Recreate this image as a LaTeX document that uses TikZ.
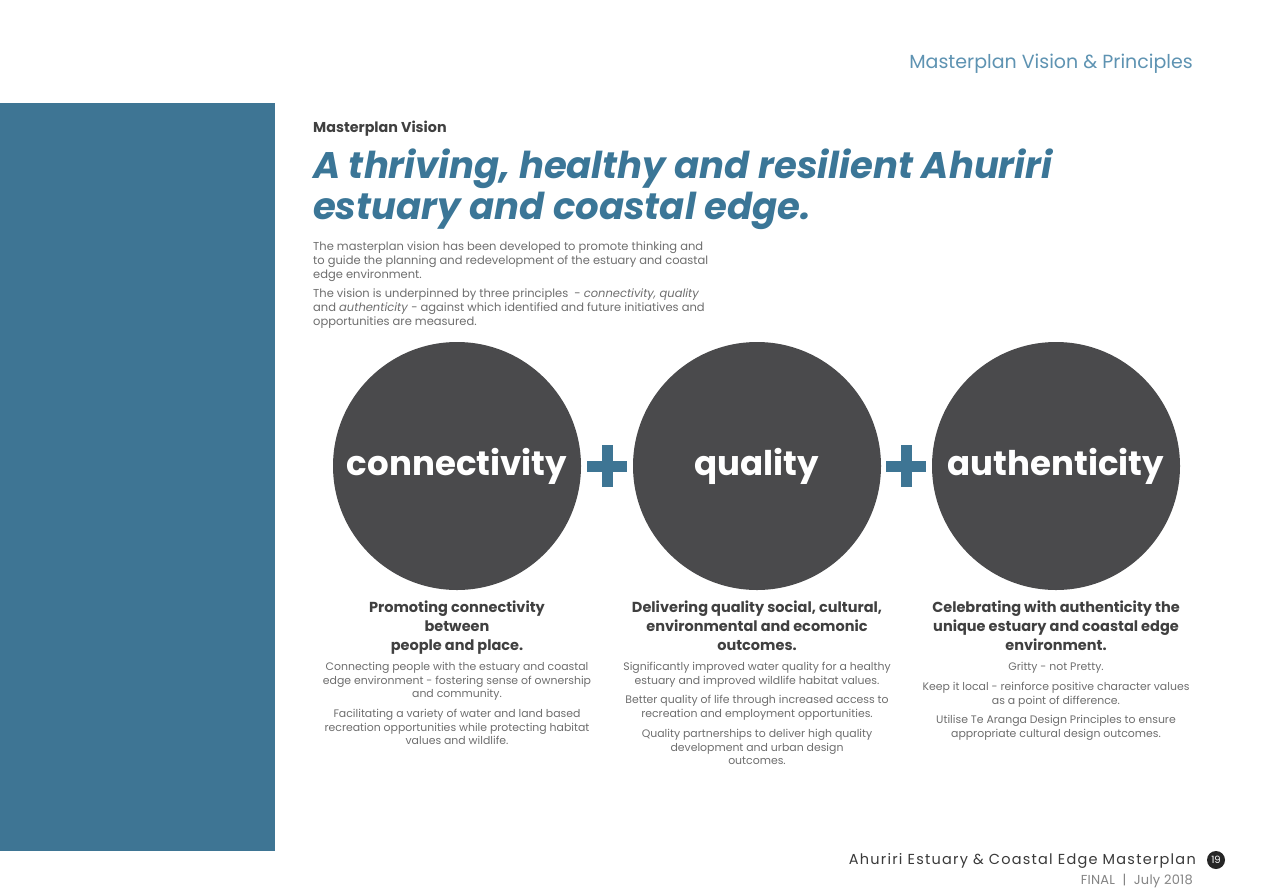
\documentclass[tikz,border=0pt]{standalone}
\usepackage{fontspec}
\setmainfont{Poppins}
\definecolor{panelblue}{HTML}{3E7594}
\definecolor{titleblue}{HTML}{3B7697}
\definecolor{lightblue}{HTML}{5E93B2}
\definecolor{circgray}{HTML}{4A4A4C}
\definecolor{headgray}{HTML}{404040}
\definecolor{bodygray}{HTML}{6E6E6E}
\tikzset{
  principle/.style={circle, fill=circgray, minimum size=248pt, inner sep=0pt, text=white, font=\fontsize{34}{40}\selectfont\bfseries},
  plusarm/.style={fill=panelblue, draw=none},
  heading/.style={align=center, text=headgray, font=\fontsize{14.5}{19}\selectfont\bfseries, inner sep=0pt, anchor=north},
  body/.style={align=center, text=bodygray, font=\fontsize{10.9}{13.5}\selectfont, inner sep=0pt, anchor=north},
  intro/.style={align=left, text=bodygray, font=\fontsize{11.5}{14}\selectfont, inner sep=0pt, anchor=north west},
}
\begin{document}
\begin{tikzpicture}[x=1pt,y=-1pt]
\useasboundingbox[fill=white] (0,0) rectangle (1277,887);
\fill[panelblue] (0,103) rectangle (275,851);
\node[anchor=base east, text=lightblue, inner sep=0pt, font=\fontsize{19}{22}\selectfont] (hdr) at (1193,68) {Masterplan Vision \& Principles};
\node[anchor=base west, text=headgray, inner sep=0pt, font=\fontsize{14.3}{16}\selectfont\bfseries] (mv) at (313,132) {Masterplan Vision};
\node[anchor=north west, align=left, text=titleblue, inner sep=0pt, font=\fontsize{37}{41}\selectfont\bfseries\itshape] (title) at (313,149) {A thriving, healthy and resilient Ahuriri\\estuary and coastal edge.};
\node[intro] (p1) at (313,242) {The masterplan vision has been developed to promote thinking and\\to guide the planning and redevelopment of the estuary and coastal\\edge environment.};
\node[intro] (p2) at (313,289) {The vision is underpinned by three principles\ \ - \textit{connectivity, quality}\\and \textit{authenticity} - against which identified and future initiatives and\\opportunities are measured.};
\node[principle] (c1) at (457,466) {connectivity};
\node[principle] (c2) at (757,466) {quality};
\node[principle] (c3) at (1056,466) {authenticity};
\foreach \x/\n in {607/plusA,906/plusB}{
  \fill[plusarm] (\x-20,466-5.5) rectangle (\x+20,466+5.5);
  \fill[plusarm] (\x-5.5,466-21) rectangle (\x+5.5,466+21);
}
\node[heading] (h1) at (457,601) {Promoting connectivity\\between\\people and place.};
\node[heading] (h2) at (757,601) {Delivering quality social, cultural,\\environmental and ecomonic\\outcomes.};
\node[heading] (h3) at (1056,601) {Celebrating with authenticity the\\unique estuary and coastal edge\\environment.};
\node[body] (b1a) at (457,662) {Connecting people with the estuary and coastal\\edge environment - fostering sense of ownership\\and community.};
\node[body] (b1b) at (457,709) {Facilitating a variety of water and land based\\recreation opportunities while protecting habitat\\values and wildlife.};
\node[body] (b2a) at (757,662) {Significantly improved water quality for a healthy\\estuary and improved wildlife habitat values.};
\node[body] (b2b) at (757,695) {Better quality of life through increased access to\\recreation and employment opportunities.};
\node[body] (b2c) at (757,729) {Quality partnerships to deliver high quality\\development and urban design\\outcomes.};
\node[body] (b3a) at (1056,662) {Gritty - not Pretty.};
\node[body] (b3b) at (1056,682) {Keep it local - reinforce positive character values\\as a point of difference.};
\node[body] (b3c) at (1056,715) {Utilise Te Aranga Design Principles to ensure\\appropriate cultural design outcomes.};
\node[anchor=base east, text=headgray!90!black, inner sep=0pt, font=\fontsize{14.5}{16}\selectfont\addfontfeature{LetterSpace=8.5}] (foot) at (1196,864) {Ahuriri Estuary \& Coastal Edge Masterplan};
\node[circle, fill=black!85, minimum size=18pt, inner sep=0pt, text=white, font=\fontsize{10}{10}\selectfont] (pg) at (1216,860) {19};
\node[anchor=base east, text=bodygray!85, inner sep=0pt, font=\fontsize{13}{14}\selectfont\addfontfeature{LetterSpace=2}] (fin) at (1193,884) {FINAL\ \ \textbar\ \ July 2018};
\end{tikzpicture}
\end{document}
